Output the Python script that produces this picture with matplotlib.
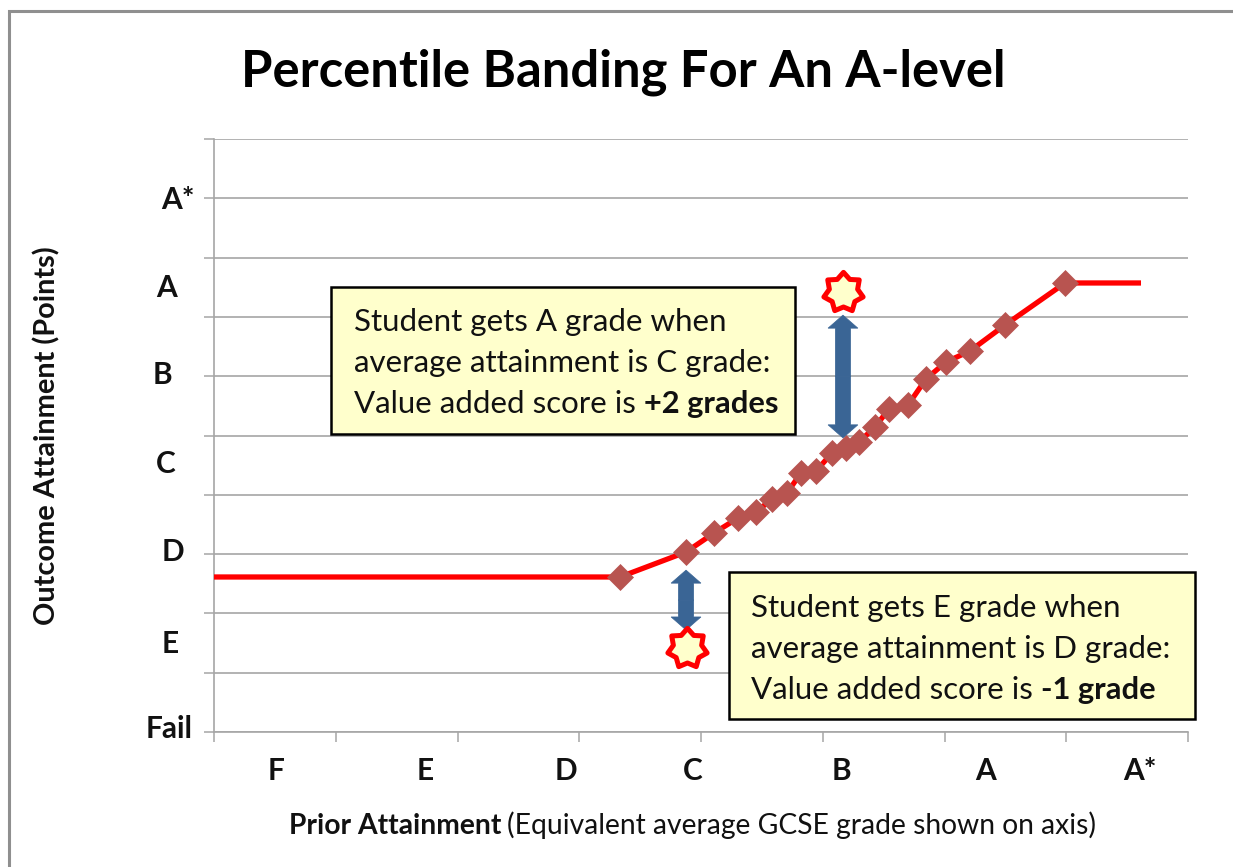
import matplotlib
matplotlib.use('Agg')
import matplotlib.pyplot as plt
import numpy as np
from matplotlib.patches import Rectangle
from matplotlib.path import Path

plt.rcParams['font.family'] = ['Lato', 'DejaVu Sans']

# curve, in axis units (one unit = one gridline / one x tick interval)
curve_x = [0, 3.335, 3.877, 4.107, 4.304, 4.452, 4.583, 4.706, 4.821, 4.945, 5.076,
           5.191, 5.298, 5.429, 5.544, 5.700, 5.848, 6.012, 6.209, 6.497, 6.990, 7.614]
curve_y = [2.614, 2.614, 3.035, 3.356, 3.609, 3.710, 3.929, 4.030, 4.368, 4.401, 4.705,
           4.789, 4.890, 5.143, 5.447, 5.514, 5.953, 6.239, 6.425, 6.863, 7.572, 7.572]

# the two example students
star_x = [5.166, 3.885]
star_y = [7.42, 1.417]
arrow_x = [5.166, 3.877]
arrow_low = [4.96, 1.72]
arrow_high = [7.03, 2.73]

y_grades = ['A*', 'A', 'B', 'C', 'D', 'E', 'Fail']
y_grade_pos = [8.97, 7.49, 6.02, 4.52, 3.04, 1.49, 0.05]
y_grade_offset = [-0.296, -0.386, -0.427, -0.394, -0.337, -0.361, -0.370]
x_grades = ['F', 'E', 'D', 'C', 'B', 'A', 'A*']
x_grade_pos = [0.509, 1.733, 2.891, 3.934, 5.150, 6.341, 7.604]

box1_lines = ['Student gets A grade when', 'average attainment is C grade:', 'Value added score is ']
box1_bold = '+2 grades'
box2_lines = ['Student gets E grade when', 'average attainment is D grade:', 'Value added score is ']
box2_bold = '-1 grade'

W, H = 1233, 867
fig = plt.figure(figsize=(W / 100, H / 100), dpi=100)
ax = fig.add_axes([214 / W, 1 - 732 / H, 974 / W, 593 / H])


def px(x, y):
    """Pixel position in the picture -> figure fraction"""
    return x / W, 1 - y / H


# outer chart frame, runs off the right and bottom edges
fig.add_artist(Rectangle(px(9, 900), 1300 / W, 889 / H, transform=fig.transFigure,
                         fc='none', ec='#8f8f8f', lw=2.2))

ax.set_xlim(0, 8)
ax.set_ylim(0, 10)
ax.set_xticks(np.arange(0, 9))
ax.set_yticks(np.arange(0, 11))
ax.set_xticklabels([])
ax.set_yticklabels([])
ax.tick_params(length=7, width=1.1, color='#a6a6a6')
ax.grid(axis='y', color='#a6a6a6', lw=1.2)
ax.set_axisbelow(True)
for side in ['top', 'right']:
    ax.spines[side].set_visible(False)
for side in ['left', 'bottom']:
    ax.spines[side].set_color('#a6a6a6')
    ax.spines[side].set_linewidth(1.2)

# curve with markers on the inner points only
ax.plot(curve_x, curve_y, color='#ff0000', lw=3.8, zorder=3, solid_capstyle='butt')
ax.plot(curve_x[1:-1], curve_y[1:-1], ls='none', marker='D', ms=13.5,
        color='#b85450', mec='#b85450', mew=0.5, zorder=4)

# double arrows: two heads pointing away from the middle
for x, low, high in zip(arrow_x, arrow_low, arrow_high):
    mid = (low + high) / 2
    for end in [low, high]:
        ax.arrow(x, mid, 0, end - mid, width=0.125, head_width=0.245, head_length=0.22,
                 length_includes_head=True, fc='#3a6595', ec='#3a6595', lw=0.5, zorder=5)

# stars
star = Path.unit_regular_star(7, innerCircle=0.72)
ax.plot(star_x, star_y, ls='none', marker=star, ms=29, mfc='#ffffcc', mec='#ff0000',
        mew=3.6, zorder=6)


def text_box(left, top, right, bottom, text_x, baselines, lines, bold):
    fig.add_artist(Rectangle(px(left, bottom), (right - left) / W, (bottom - top) / H,
                             transform=fig.transFigure, fc='#ffffcc', ec='black', lw=1.8, zorder=7))
    last = None
    for y, line in zip(baselines, lines):
        last = fig.text(*px(text_x, y), line, fontsize=22.5, color='#111111', va='baseline', zorder=8)
    # bold part carries on after the last plain line
    end = last.get_window_extent(fig.canvas.get_renderer()).x1
    fig.text(*px(end, baselines[-1]), bold, fontsize=22.2, fontweight='bold', color='#111111',
             va='baseline', zorder=8)


text_box(331, 287, 795, 434, 354, [331, 372, 413], box1_lines, box1_bold)
text_box(729, 572, 1195, 719, 751, [617, 658, 699], box2_lines, box2_bold)

for label, y, off in zip(y_grades, y_grade_pos, y_grade_offset):
    ax.text(off, y, label, ha='center', va='center', fontsize=21.5, fontweight='bold', color='#111111')
for label, x in zip(x_grades, x_grade_pos):
    ax.text(x, -0.65, label, ha='center', va='center', fontsize=21.5, fontweight='bold', color='#111111')

fig.text(*px(623, 72), 'Percentile Banding For An A-level', fontsize=36.5, fontweight='bold',
         ha='center', va='center', color='black')
fig.text(*px(47, 436), 'Outcome Attainment (Points)', fontsize=20.8, fontweight='bold',
         rotation=90, ha='center', va='center', color='#111111')

# x axis title is half bold, half plain
t = fig.text(*px(289, 834), 'Prior Attainment', fontsize=20.3, fontweight='bold', va='baseline', color='#111111')
end = t.get_window_extent(fig.canvas.get_renderer()).x1
fig.text(*px(end + 6, 834), '(Equivalent average GCSE grade shown on axis)', fontsize=20.3,
         va='baseline', color='#111111')

fig.savefig('out.png', dpi=100)
plt.close(fig)
